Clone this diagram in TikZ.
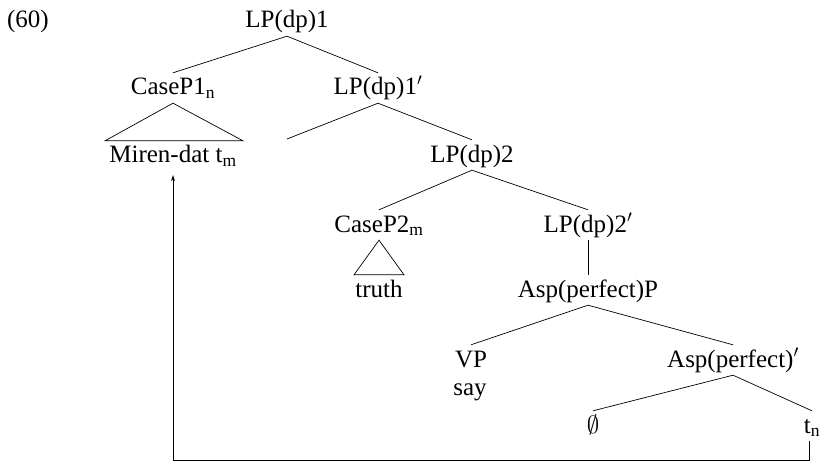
\documentclass[tikz,border=0pt]{standalone}
\usepackage{fontspec}
\setmainfont{Liberation Serif}
\usetikzlibrary{arrows.meta}
\begin{document}
\begin{tikzpicture}[x=1pt,y=-1pt,
  lab/.style={font=\fontsize{25}{30}\selectfont, anchor=base, text height=20pt, text depth=6pt, inner sep=2pt},
  edge/.style={line width=0.7pt},
  move/.style={line width=0.7pt, -{Stealth[length=6pt,width=4pt]}}]
\useasboundingbox (0,0) rectangle (822,468);
\node[lab] (n60) at (28,28) {(60)};
\node[lab] (lp1) at (287,28) {LP(dp)1};
\node[lab] (cp1) at (173,95) {CaseP1\textsubscript{n}};
\node[lab] (lp1b) at (378,95) {LP(dp)1$'$};
\node[lab] (miren) at (173,163) {Miren-dat t\textsubscript{m}};
\node[lab] (lp2) at (472,162) {LP(dp)2};
\node[lab] (cp2) at (379,232) {CaseP2\textsubscript{m}};
\node[lab] (lp2b) at (588,232) {LP(dp)2$'$};
\node[lab] (truth) at (379,297) {truth};
\node[lab] (asp) at (588,297) {Asp(perfect)P};
\node[lab] (vp) at (471,367) {VP};
\node[lab] (say) at (470,395) {say};
\node[lab] (aspb) at (733,367) {Asp(perfect)$'$};
\node[lab] (empt) at (593,433) {$\emptyset$};
\node[lab] (tn) at (812,433) {t\textsubscript{n}};
\coordinate (e1) at (287,139);
\coordinate (c1) at (809,460);
\draw[edge] (cp1.north) -- (lp1.south) -- (lp1b.north);
\draw[edge] (cp1.south) -- ([xshift=-68pt]miren.north) -- ([xshift=70pt]miren.north) -- cycle;
\draw[edge] (e1) -- (lp1b.south) -- (lp2.north);
\draw[edge] (cp2.north) -- (lp2.south) -- (lp2b.north);
\draw[edge] (cp2.south) -- ([xshift=-25pt]truth.north) -- ([xshift=25pt]truth.north) -- cycle;
\draw[edge] (lp2b.south) -- (asp.north);
\draw[edge] (vp.north) -- (asp.south) -- (aspb.north);
\draw[edge] (empt.north) -- (aspb.south) -- (tn.north);
\draw[move] (tn.south -| c1) -- (c1) -- (c1 -| miren.south) -- ([yshift=-4pt]miren.south);
\end{tikzpicture}
\end{document}
